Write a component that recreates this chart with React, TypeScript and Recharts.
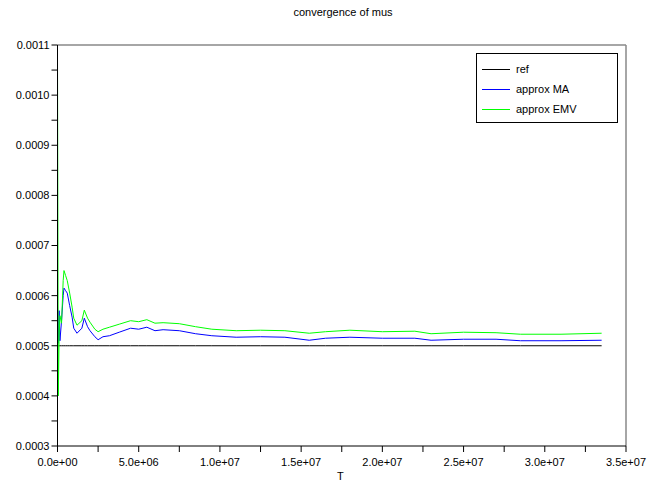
import React from 'react'
import { LineChart, Line, XAxis, YAxis, ReferenceLine } from 'recharts'

// time steps
const T_VALUES = [
  0, 0.05e6, 0.1e6, 0.15e6, 0.25e6, 0.35e6, 0.4e6, 0.5e6, 0.6e6, 0.75e6, 0.9e6, 1.0e6,
  1.2e6, 1.5e6, 1.65e6, 1.85e6, 2.0e6, 2.3e6, 2.5e6, 2.8e6, 3.2e6, 3.8e6, 4.5e6, 5.0e6,
  5.5e6, 6.0e6, 6.5e6, 7.5e6, 8.5e6, 9.5e6, 1.1e7, 1.25e7, 1.4e7, 1.55e7, 1.65e7, 1.8e7,
  2.0e7, 2.2e7, 2.3e7, 2.5e7, 2.7e7, 2.85e7, 3.1e7, 3.35e7,
]
const MA = [
  0.00058, 0.000505, 0.00057, 0.00051, 0.00055, 0.0006, 0.000615, 0.00061, 0.000605, 0.00058, 0.000557, 0.000535,
  0.000525, 0.000535, 0.000555, 0.000538, 0.00053, 0.000518, 0.000512, 0.000518, 0.00052, 0.000527, 0.000535, 0.000533,
  0.000537, 0.00053, 0.000532, 0.00053, 0.000524, 0.00052, 0.000517, 0.000518, 0.000517, 0.000511, 0.000515, 0.000517,
  0.000515, 0.000515, 0.000511, 0.000513, 0.000513, 0.00051, 0.00051, 0.000511,
]
const EMV = [
  0.00107, 0.0004, 0.00052, 0.00056, 0.000545, 0.00063, 0.00065, 0.00064, 0.00063, 0.000605, 0.000577, 0.000555,
  0.000541, 0.00055, 0.000571, 0.000555, 0.000547, 0.000533, 0.000528, 0.000533, 0.000537, 0.000543, 0.00055, 0.000548,
  0.000552, 0.000545, 0.000546, 0.000544, 0.000538, 0.000533, 0.00053, 0.000531, 0.00053, 0.000525, 0.000528, 0.000531,
  0.000528, 0.000529, 0.000524, 0.000527, 0.000526, 0.000523, 0.000523, 0.000525,
]
const REF = 0.0005

const X_TICKS = [0, 2.5e6, 5e6, 7.5e6, 1e7, 1.25e7, 1.5e7, 1.75e7, 2e7, 2.25e7, 2.5e7, 2.75e7, 3e7, 3.25e7, 3.5e7]
const Y_TICKS = [0.0003, 0.00035, 0.0004, 0.00045, 0.0005, 0.00055, 0.0006, 0.00065, 0.0007, 0.00075, 0.0008, 0.00085, 0.0009, 0.00095, 0.001, 0.00105, 0.0011]

const data = T_VALUES.map((t, i) => ({ t, ref: REF, ma: MA[i], emv: EMV[i] }))

const FONT = '"Liberation Sans", Arial, sans-serif'

const fmtX = (v: number) => {
  const k = Math.round(v / 2.5e6)
  if (k % 2 !== 0) return ''
  if (v === 0) return '0.0e+00'
  const e = Math.floor(Math.log10(v))
  const m = (v / Math.pow(10, e)).toFixed(1)
  return `${m}e+${String(e).padStart(2, '0')}`
}
const fmtY = (v: number) => {
  const k = Math.round(v / 0.00005)
  return k % 2 === 0 ? v.toFixed(4) : ''
}

const LEGEND = [
  { name: 'ref', color: '#000000' },
  { name: 'approx MA', color: '#0000ff' },
  { name: 'approx EMV', color: '#00ff00' },
]

function LegendBox() {
  return (
    <div style={{ position: 'absolute', left: 476, top: 53, border: '1px solid #000', background: 'white', width: 142, height: 70, boxSizing: 'border-box', padding: '5px 0 0 5px', fontFamily: FONT, fontSize: 11, color: '#000' }}>
      {LEGEND.map(l => (
        <div key={l.name} style={{ display: 'flex', alignItems: 'center', height: 20 }}>
          <span style={{ display: 'inline-block', width: 28, height: 1, background: l.color, marginRight: 6 }} />
          <span>{l.name}</span>
        </div>
      ))}
    </div>
  )
}

export default function App() {
  return (
    <div style={{ position: 'absolute', left: 0, top: 0, width: 649, height: 490, background: 'white' }}>
      <div style={{ position: 'absolute', top: 6, left: 0, width: 686, textAlign: 'center', fontFamily: FONT, fontSize: 11, color: '#000' }}>
        convergence of mus
      </div>
      <LineChart width={649} height={490} data={data} margin={{ top: 45, right: 23, left: 7, bottom: 14 }}>
        <XAxis dataKey="t" type="number" domain={[0, 3.5e7]} ticks={X_TICKS} tickFormatter={fmtX}
               interval={0} height={30} tickSize={6} stroke="#000" allowDataOverflow
               tick={{ fontSize: 11, fill: '#000', fontFamily: FONT, dy: 4 }} />
        <YAxis type="number" domain={[0.0003, 0.0011]} ticks={Y_TICKS} tickFormatter={fmtY}
               interval={0} width={50.5} tickSize={6} stroke="#000" allowDataOverflow
               tick={{ fontSize: 11, fill: '#000', fontFamily: FONT }} />
        <ReferenceLine y={0.0011} stroke="#888" strokeWidth={1.5} />
        <ReferenceLine x={3.5e7} stroke="#888" strokeWidth={1.5} />
        <Line dataKey="ref" stroke="#000000" strokeWidth={1} dot={false} isAnimationActive={false} />
        <Line dataKey="ma" stroke="#0000ff" strokeWidth={1} dot={false} isAnimationActive={false} />
        <Line dataKey="emv" stroke="#00ff00" strokeWidth={1} dot={false} isAnimationActive={false} />
      </LineChart>
      <LegendBox />
      <div style={{ position: 'absolute', top: 470, left: 337, fontFamily: FONT, fontSize: 11, color: '#000' }}>T</div>
    </div>
  )
}
